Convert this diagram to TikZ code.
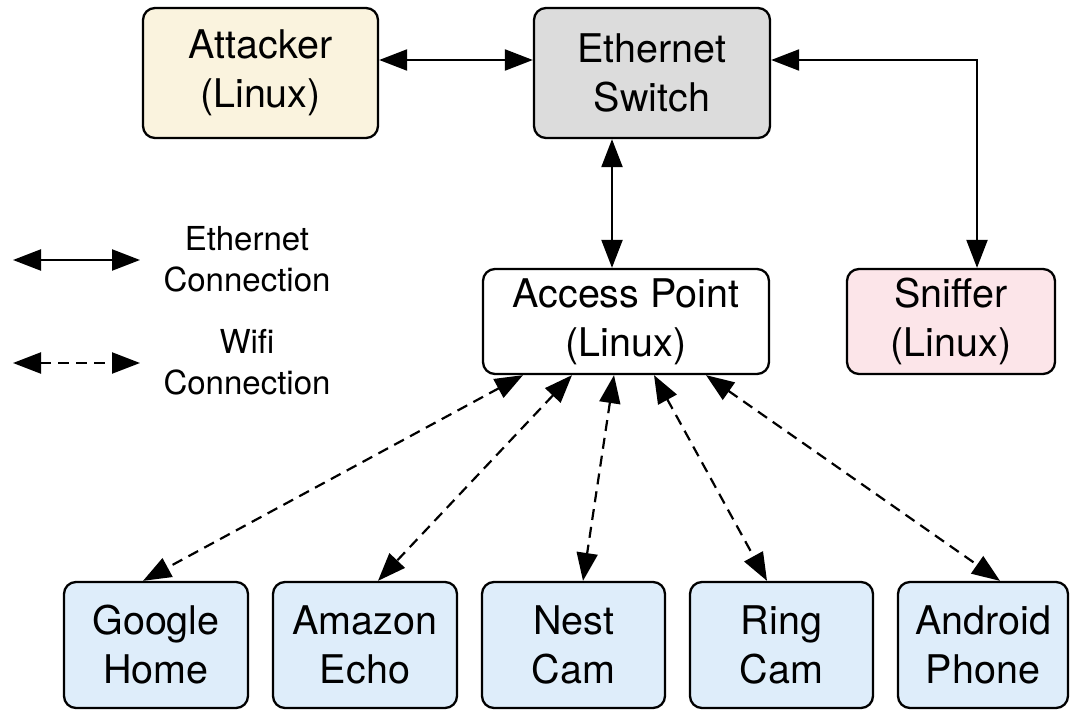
\documentclass[tikz,border=0pt]{standalone}
\usepackage{fontspec}
\setmainfont{TeX Gyre Heros}
\usetikzlibrary{arrows.meta,calc}
\definecolor{attfill}{HTML}{FAF3DE}
\definecolor{swfill}{HTML}{DCDCDC}
\definecolor{snfill}{HTML}{FCE5E9}
\definecolor{devfill}{HTML}{DEEDFA}
\begin{document}
\begin{tikzpicture}[x=1pt,y=-1pt,
  box/.style={draw=black, line width=2.3pt, rounded corners=12pt, align=center, inner sep=0pt, font=\fontsize{39.5}{49}\selectfont},
  topbox/.style={box, minimum width=235pt, minimum height=130pt},
  midbox/.style={box, minimum height=105pt},
  devbox/.style={box, fill=devfill, minimum width=183pt, minimum height=126pt},
  tip/.tip={Triangle[length=28pt,width=21pt]},
  conn/.style={line width=2.2pt, tip-tip},
  wifi/.style={conn, dash pattern=on 11pt off 7pt},
  legtext/.style={align=center, inner sep=0pt, font=\fontsize{33}{41}\selectfont}]
\useasboundingbox (0,0) rectangle (1070,711);

% top row
\node[topbox, fill=attfill] (att) at (260.5,73) {Attacker\\(Linux)};
\node[topbox, fill=swfill, minimum width=236pt] (sw) at (652,73) {Ethernet\\Switch};

% middle row
\node[midbox, fill=white, minimum width=286pt] (ap) at (626,321.5) {Access Point\\(Linux)};
\node[midbox, fill=snfill, minimum width=208pt] (sn) at (951,321.5) {Sniffer\\(Linux)};

% devices
\node[devbox, minimum width=184pt] (gh) at (156,645) {Google\\Home};
\node[devbox, minimum width=184pt] (ae) at (365,645) {Amazon\\Echo};
\node[devbox] (nc) at (573.5,645) {Nest\\Cam};
\node[devbox] (rc) at (781.5,645) {Ring\\Cam};
\node[devbox, minimum width=170pt] (ph) at (983,645) {Android\\Phone};

% ethernet connections
\draw[conn] ([yshift=13pt]att.east) -- ([yshift=13pt]sw.west);
\draw[conn] ([xshift=-40pt]sw.south) -- ([xshift=-14pt]ap.north);
\draw[conn] ([yshift=13pt]sw.east) -| ([xshift=26pt]sn.north);

% wifi connections
\draw[wifi] ([xshift=-103pt]ap.south) -- ([xshift=-13pt]gh.north);
\draw[wifi] ([xshift=-54pt]ap.south) -- ([xshift=13pt]ae.north);
\draw[wifi] ([xshift=-12pt]ap.south) -- ([xshift=9.5pt]nc.north);
\draw[wifi] ([xshift=28pt]ap.south) -- ([xshift=-14.5pt]rc.north);
\draw[wifi] ([xshift=80pt]ap.south) -- ([xshift=17pt]ph.north);

% legend
\coordinate (le1) at (13,260);
\coordinate (le2) at (140,260);
\coordinate (lw1) at (13,363);
\coordinate (lw2) at (140,363);
\draw[conn] (le1) -- (le2);
\draw[wifi] (lw1) -- (lw2);
\node[legtext] (let) at (247,259) {Ethernet\\Connection};
\node[legtext] (lwt) at (247,362) {Wifi\\Connection};
\end{tikzpicture}
\end{document}
